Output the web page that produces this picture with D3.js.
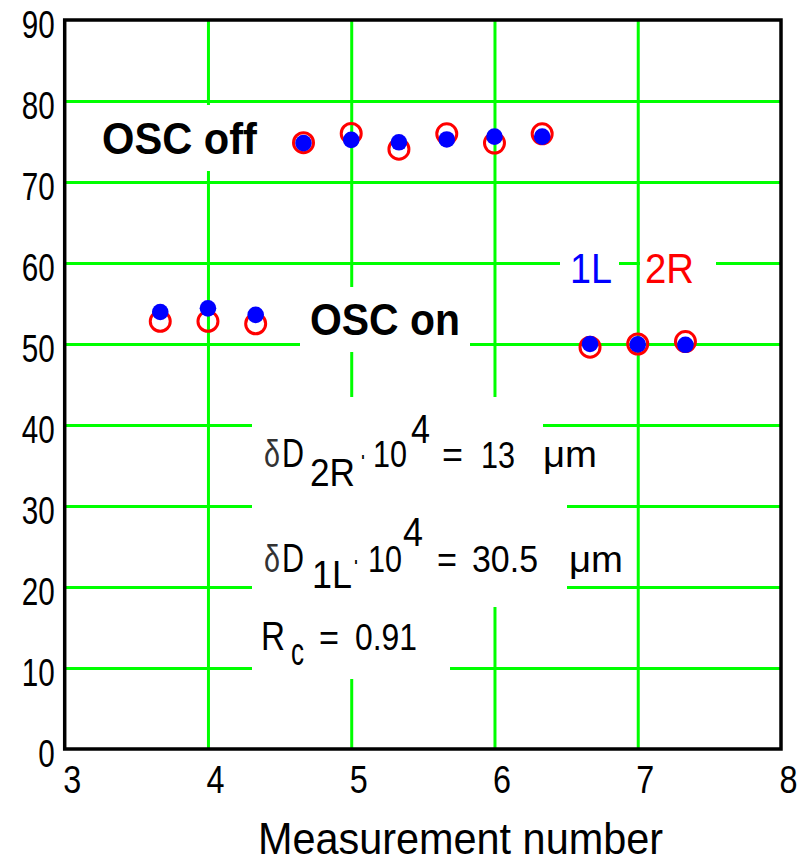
<!DOCTYPE html>
<html>
<head>
<meta charset="utf-8">
<script src="https://cdn.jsdelivr.net/npm/d3@7"></script>
<style>
  html, body { margin: 0; padding: 0; background: #fff; }
  svg { display: block; }
  text { font-family: "Liberation Sans", Arial, sans-serif; }
</style>
</head>
<body>
<svg id="chart" width="805" height="859"></svg>
<script>
// Measurement numbers (three readings per unit step)
const measurement = [3.667, 4, 4.333, 4.667, 5, 5.333, 5.667, 6, 6.333, 6.667, 7, 7.333];
// Readings for detector 1L (filled) and 2R (open)
const series1L = [53.95, 54.4, 53.6, 74.8, 75.2, 74.9, 75.25, 75.6, 75.6, 50.0, 49.95, 49.9];
const series2R = [52.8, 52.8, 52.5, 74.85, 76.0, 74.05, 75.95, 74.8, 75.95, 49.6, 50.0, 50.3];
const xTicks = [3, 4, 5, 6, 7, 8];
const yTicks = [0, 10, 20, 30, 40, 50, 60, 70, 80, 90];
const xGrid = [4, 5, 6, 7];
const yGrid = [10, 20, 30, 40, 50, 60, 70, 80];

const GREEN = "#00ff00", RED = "#ff0000", BLUE = "#0000ff";
const SANS = "'Liberation Sans', Arial, sans-serif";
const SERIF = "'Liberation Serif', 'Times New Roman', serif";

const svg = d3.select("#chart");
const x = d3.scaleLinear().domain([3, 8]).range([64.7, 781]);
const y = d3.scaleLinear().domain([0, 90]).range([749, 20]);
const plotH = y(0) - y(90);
const plotW = x(8) - x(3);

// Green grid
const gxGrid = svg.append("g")
  .attr("transform", `translate(0,${y(0)})`)
  .call(d3.axisBottom(x).tickValues(xGrid).tickSize(-plotH).tickFormat(""));
gxGrid.select(".domain").remove();
gxGrid.selectAll("line").attr("stroke", GREEN).attr("stroke-width", 3);

const gyGrid = svg.append("g")
  .attr("transform", `translate(${x(3)},0)`)
  .call(d3.axisLeft(y).tickValues(yGrid).tickSize(-plotW).tickFormat(""));
gyGrid.select(".domain").remove();
gyGrid.selectAll("line").attr("stroke", GREEN).attr("stroke-width", 3);

// White panels behind the annotations hide the grid underneath
const panels = [
  [90, 105, 270, 171],
  [300, 287, 470, 352],
  [560, 245, 619, 292],
  [640, 245, 716, 292],
  [252, 397, 543, 490],
  [252, 490, 567, 607],
  [252, 607, 450, 679]
];
svg.append("g").selectAll("rect").data(panels).join("rect")
  .attr("x", d => d[0]).attr("y", d => d[1])
  .attr("width", d => d[2] - d[0]).attr("height", d => d[3] - d[1])
  .attr("fill", "#fff");

// Frame
svg.append("rect")
  .attr("x", x(3)).attr("y", y(90))
  .attr("width", plotW).attr("height", plotH)
  .attr("fill", "none").attr("stroke", "#000").attr("stroke-width", 3.5);

// Tick labels
const yAxis = svg.append("g")
  .attr("transform", `translate(${x(3)},0)`)
  .call(d3.axisLeft(y).tickValues(yTicks).tickSize(0).tickPadding(10).tickFormat(d3.format("d")));
yAxis.select(".domain").remove();
yAxis.selectAll("text")
  .attr("font-size", 38).attr("font-family", SANS).attr("fill", "#000")
  .attr("dy", "0.45em")
  .attr("textLength", d => String(d).length * 16.5)
  .attr("lengthAdjust", "spacingAndGlyphs");

const xAxis = svg.append("g")
  .attr("transform", `translate(0,${y(0)})`)
  .call(d3.axisBottom(x).tickValues(xTicks).tickSize(0).tickPadding(17).tickFormat(d3.format("d")));
xAxis.select(".domain").remove();
xAxis.selectAll("text")
  .attr("font-size", 38).attr("font-family", SANS).attr("fill", "#000")
  .attr("dx", 7)
  .attr("textLength", 18)
  .attr("lengthAdjust", "spacingAndGlyphs");

// Text helper
function label(g, s, px, base, size, width, opts = {}) {
  const t = g.append("text")
    .attr("x", px).attr("y", base)
    .attr("font-size", size)
    .attr("font-family", opts.family || SANS)
    .attr("font-weight", opts.weight || "normal")
    .attr("fill", opts.color || "#000")
    .text(s);
  if (width) t.attr("textLength", width).attr("lengthAdjust", "spacingAndGlyphs");
  return t;
}

const ann = svg.append("g");
label(ann, "Measurement number", 258, 854, 44, 405);
label(ann, "OSC off", 102, 154, 44, 155, { weight: "bold" });
label(ann, "OSC on", 310, 335, 44, 150, { weight: "bold" });
label(ann, "1L", 570, 283, 43, 42, { color: BLUE });
label(ann, "2R", 645, 283, 43, 49, { color: RED });

// δD2R·10^4 = 13 μm
label(ann, "δ", 264, 467, 38, 16, { family: SERIF, color: "#333" });
label(ann, "D", 282, 467, 40, 22, { family: SERIF });
label(ann, "2R", 310, 486, 38, 45, { family: SERIF });
label(ann, "·", 360, 467, 36, 6);
label(ann, "10", 373, 467, 36, 34);
label(ann, "4", 411, 443, 40, 19);
label(ann, "=", 442, 467, 36, 21);
label(ann, "13", 481, 468, 37, 34);
label(ann, "μm", 543, 467, 36, 54);

// δD1L·10^4 = 30.5 μm
label(ann, "δ", 264, 572, 38, 16, { family: SERIF, color: "#333" });
label(ann, "D", 282, 572, 40, 22, { family: SERIF });
label(ann, "1L", 312, 588, 38, 40, { family: SERIF });
label(ann, "·", 353, 572, 36, 6);
label(ann, "10", 368, 572, 36, 34);
label(ann, "4", 403, 546, 40, 20);
label(ann, "=", 437, 572, 36, 20);
label(ann, "30.5", 472, 572, 37, 66);
label(ann, "μm", 569, 572, 36, 54);

// Rc = 0.91
label(ann, "R", 261, 650, 40, 24, { family: SERIF });
label(ann, "c", 291, 665, 38, 13, { family: SERIF });
label(ann, "=", 319, 650, 36, 20);
label(ann, "0.91", 355, 650, 37, 62);

// Data points: open red rings for 2R, filled blue dots for 1L on top
const pts = measurement.map((m, i) => ({ m, a: series1L[i], b: series2R[i] }));
svg.append("g").selectAll("circle").data(pts).join("circle")
  .attr("cx", d => x(d.m)).attr("cy", d => y(d.b))
  .attr("r", 10).attr("fill", "none").attr("stroke", RED).attr("stroke-width", 3);
svg.append("g").selectAll("circle").data(pts).join("circle")
  .attr("cx", d => x(d.m)).attr("cy", d => y(d.a))
  .attr("r", 8.3).attr("fill", BLUE);
</script>
</body>
</html>
